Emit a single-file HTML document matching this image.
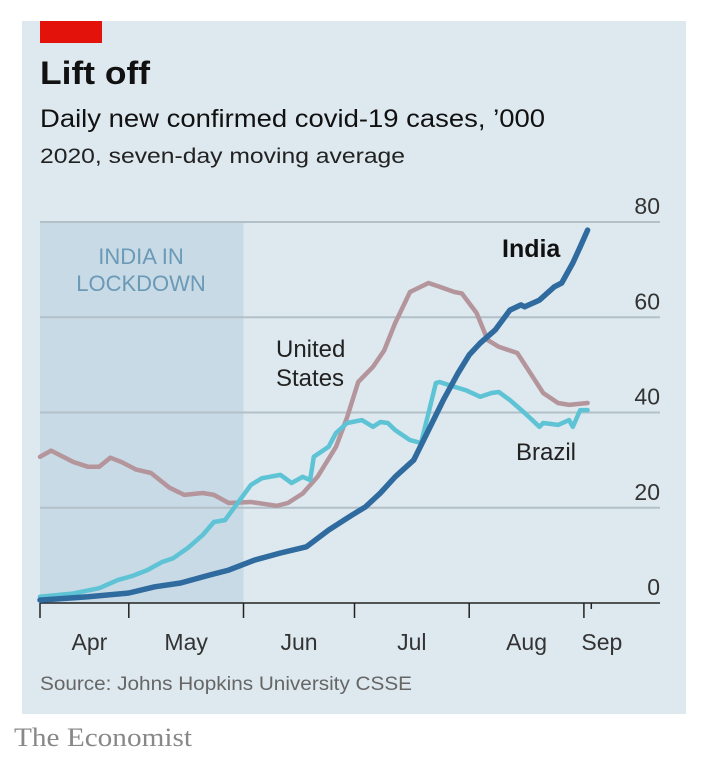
<!DOCTYPE html>
<html><head><meta charset="utf-8"><style>
body{margin:0;background:#fff;width:708px;height:776px;overflow:hidden;font-family:"Liberation Sans",sans-serif}
svg{display:block}
</style></head><body>
<svg width="708" height="776">
<rect x="22" y="21" width="664" height="693" fill="#dde8ef"/>
<rect x="40" y="21" width="62" height="22" fill="#e3120b"/>
<text x="40" y="84" font-size="32" font-weight="bold" fill="#111" textLength="110" lengthAdjust="spacingAndGlyphs">Lift off</text>
<text x="40" y="127" font-size="25" fill="#111" textLength="505" lengthAdjust="spacingAndGlyphs">Daily new confirmed covid-19 cases, ’000</text>
<text x="40" y="163" font-size="21" fill="#222" textLength="365" lengthAdjust="spacingAndGlyphs">2020, seven-day moving average</text>
<g id="plot"></g>
<text x="40" y="690" font-size="19" fill="#666" textLength="372" lengthAdjust="spacingAndGlyphs">Source: Johns Hopkins University CSSE</text>
<text x="14" y="746" font-size="26" fill="#888" font-family="Liberation Serif,serif" textLength="178" lengthAdjust="spacingAndGlyphs">The Economist</text>
</svg>
<script>
const yTicks=[0,20,40,60,80];
const monthLabels=["Apr","May","Jun","Jul","Aug","Sep"];
const monthTickDays=[0,24,55,85,116,147,149];
const lockdownDays=[0,55];
const usDays=[0,3,9,13,16,19,22,26,30,35,39,44,47,51,57,64,67,71,75,80,83,86,90,93,96,100,105,108,112,114,118,121,124,129,132,136,140,143,148];
const usVals=[30.7,32,29.6,28.6,28.6,30.5,29.6,28,27.3,24.2,22.7,23.1,22.7,21,21.2,20.4,21,23,26.5,32.8,39,46.4,49.6,53,58.8,65.3,67.2,66.4,65.3,65,60.9,55.2,53.8,52.5,48.9,44.1,42,41.6,42];
const brDays=[0,9,16,21,25,29,33,36,40,44,47,50,54,57,60,65,68,71,73,74,78,80,83,87,90,92,94,96,100,103,105,107,108,112,115,119,122,124,127,131,135,136,140,143,144,146,147,148];
const brVals=[1.3,2,3.1,4.8,5.7,6.9,8.6,9.4,11.6,14.3,17,17.4,21.6,24.8,26.2,26.9,25.2,26.5,25.8,30.7,32.8,35.7,37.8,38.4,37,38,37.8,36.3,34.2,33.6,39.9,46.2,46.4,45.4,44.7,43.3,44.1,44.3,42.6,39.9,37,37.8,37.4,38.4,37,40.5,40.5,40.5];
const inDays=[0,13,24,31,38,46,51,58,65,72,78,84,88,92,96,101,105,109,113,116,119,123,127,130,131,135,139,141,144,146,148];
const inVals=[0.6,1.3,2.1,3.4,4.2,5.9,6.9,9,10.5,11.8,15.3,18.3,20.2,23.1,26.5,30,36.3,42.6,48.3,52.1,54.6,57.3,61.5,62.6,62.2,63.6,66.4,67.2,71.4,74.8,78.3];

const X=d=>40+d*3.7, Y=v=>603-v*4.7625;
const g=document.getElementById('plot'),NS='http://www.w3.org/2000/svg';
function mk(t,a){const e=document.createElementNS(NS,t);for(const k in a)e.setAttribute(k,a[k]);g.appendChild(e);return e;}
let e=mk('rect',{x:X(lockdownDays[0]),y:Y(80),width:X(lockdownDays[1])-X(lockdownDays[0]),height:Y(0)-Y(80),fill:'#c8dae6'});


yTicks.forEach(v=>{
 if(v>0){const l=mk('line',{x1:40,x2:660,y1:Y(v),y2:Y(v),stroke:'#b3c0c8','stroke-width':2});
 
 }
 const t=mk('text',{x:660,y:Y(v)-8,'text-anchor':'end','font-size':23,fill:'#333'});t.textContent=v;
 
 
});
let ax=mk('line',{x1:40,x2:660,y1:Y(0),y2:Y(0),stroke:'#222','stroke-width':1.5});


monthTickDays.forEach((d,i)=>{const t=mk('line',{x1:X(d),x2:X(d),y1:Y(0),y2:Y(0)+(i==6?6:15),stroke:'#222','stroke-width':1.5});
 
 });
const lblX=[ (X(0)+X(24))/2+5,(X(24)+X(55))/2,(X(55)+X(85))/2,(X(85)+X(116))/2,(X(116)+X(147))/2,X(147)+18];
monthLabels.forEach((m,i)=>{const t=mk('text',{x:lblX[i],y:650,'text-anchor':'middle','font-size':23,fill:'#333'});t.textContent=m;
 
 });
function line(ds,vs,col,w,name){const p=mk('path',{d:ds.map((d,i)=>(i?'L':'M')+X(d).toFixed(1)+','+Y(vs[i]).toFixed(1)).join(''),fill:'none',stroke:col,'stroke-width':w,'stroke-linejoin':'round','stroke-linecap':'round'});
 
 }
line(usDays,usVals,'#b4959b',4.5,'us-line');
line(brDays,brVals,'#5ec3d4',4.5,'brazil-line');
line(inDays,inVals,'#2f6b9e',5.5,'india-line');
function txt(s,x,y,a,name){const t=mk('text',Object.assign({x:x,y:y},a));t.textContent=s;
 
 }
txt('INDIA IN',141,264,{'text-anchor':'middle','font-size':22,fill:'#6a9ab6'},'lockdown-label-1');
txt('LOCKDOWN',141,291,{'text-anchor':'middle','font-size':22,fill:'#6a9ab6'},'lockdown-label-2');
txt('India',502,257,{'font-size':25,'font-weight':'bold',fill:'#111'},'india-label');
txt('United',276,357,{'font-size':24,fill:'#222'},'us-label-1');
txt('States',276,386,{'font-size':24,fill:'#222'},'us-label-2');
txt('Brazil',516,460,{'font-size':24,fill:'#222'},'brazil-label');
</script>
</body></html>
